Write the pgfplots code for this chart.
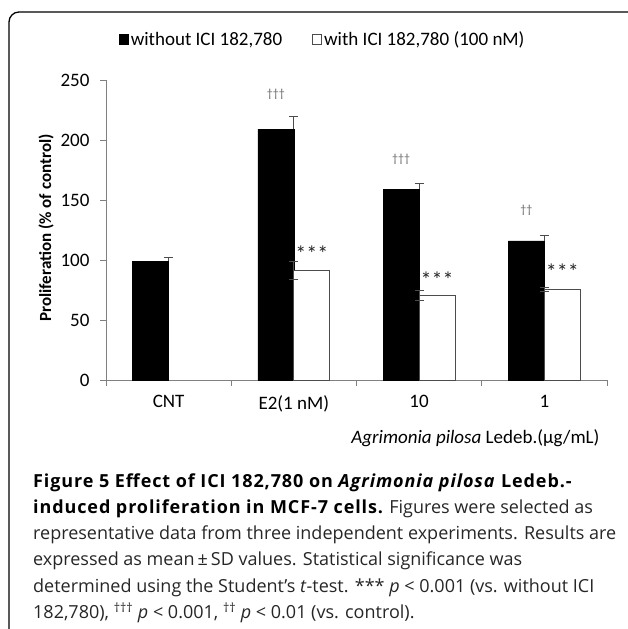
\documentclass[border=0pt]{standalone}
\usepackage{fontspec}
\setmainfont{Carlito}
\newfontfamily\capfont{Open Sans}
\newfontfamily\capbold[LetterSpace=5]{Open Sans Bold}
\usepackage{pgfplots}
\pgfplotsset{compat=1.18}

\begin{document}
\begin{tikzpicture}[x=1pt,y=1pt]
\useasboundingbox (0,0) rectangle (627,-629);
% frame round the figure
\draw[line width=1.3pt] (640,-12) -- (19,-12) arc[start angle=90,end angle=180,radius=10] -- (9,-640);

\begin{axis}[
    at={(106pt,-380pt)}, anchor=south west,
    scale only axis,
    width=501pt, height=300pt,
    xmin=-0.5, xmax=3.5,
    ymin=0, ymax=250,
    axis x line=bottom, axis y line=left,
    axis line style={-, gray, line width=0.8pt},
    tick align=outside,
    major tick length=6pt,
    tick style={gray, line width=0.8pt},
    ytick={0,50,...,250},
    yticklabel style={xshift=-7pt},
    xtick={-0.5,0.5,1.5,2.5,3.5},
    xticklabels={},
    extra x ticks={0,1,2,3},
    extra x tick labels={CNT,E2(1 nM),10,1},
    extra x tick style={major tick length=0pt, tick style={draw=none},
        tick label style={yshift=-12pt}},
    ticklabel style={font=\fontsize{19}{22}\selectfont},
    /pgf/number format/assume math mode=true,
    area legend,
    legend columns=2,
    legend style={draw=none, fill=none, at={(0.433,1.135)}, anchor=center,
        font=\fontsize{19}{22}\selectfont,
        /tikz/every even column/.append style={column sep=28pt}},
    legend image code/.code={\draw[#1] (1pt,-5pt) rectangle (10pt,5pt);},
]
% without ICI 182,780
\addplot[ybar, bar width=0.287, bar shift=-0.1435, fill=black, draw=black,
    error bars/.cd, y dir=plus, y explicit,
    error bar style={black!70, line width=0.8pt},
    error mark options={rotate=90, mark size=4.5pt, line width=0.8pt, black!70}]
    coordinates {(0,99) +- (0,3) (1,209) +- (0,10.5) (2,159) +- (0,4.5) (3,116) +- (0,4.5)};
\addlegendentry{without ICI 182,780}
% with ICI 182,780 (100 nM)
\addplot[ybar, bar width=0.287, bar shift=0.1435, fill=white, draw=black!70, line width=0.9pt,
    error bars/.cd, y dir=both, y explicit,
    error bar style={black!70, line width=0.8pt},
    error mark options={rotate=90, mark size=4.5pt, line width=0.8pt, black!70}]
    coordinates {(1,91) +- (0,7.5) (2,70.5) +- (0,4.5) (3,75.5) +- (0,1.5)};
\addlegendentry{with ICI 182,780 (100 nM)}

% significance marks
\begin{scope}[every node/.style={font=\fontsize{12}{12}\selectfont, text=black!60}]
\node at (axis cs:0.8565,238) {\textdagger\textdagger\textdagger};
\node at (axis cs:1.8565,184) {\textdagger\textdagger\textdagger};
\node at (axis cs:2.8565,141) {\textdagger\textdagger};
\end{scope}
\begin{scope}[every node/.style={font=\fontsize{22}{22}\selectfont, text=black!85}]
\node at (axis cs:1.1435,105) {***};
\node at (axis cs:2.1435,84) {***};
\node at (axis cs:3.1435,90) {***};
\end{scope}
\end{axis}

% axis titles
\node[rotate=90, font=\bfseries\fontsize{17}{20}\selectfont] at (46,-228) {Proliferation (\% of control)};
\node[anchor=east, font=\fontsize{19}{22}\selectfont] at (603,-438) {\textit{Agrimonia pilosa} Ledeb.(µg/mL)};

% caption, one node per line
\begin{scope}[every node/.style={anchor=base west, inner sep=0pt, text=black!85,
    font=\capfont\fontsize{18}{21}\selectfont}]
\node at (33,-487) {\capbold\color{black}Figure 5 Effect of ICI 182,780 on \textit{Agrimonia pilosa} Ledeb.-};
\node at (33,-513.3) {{\capbold\color{black}induced proliferation in MCF-7 cells.} Figures were selected as};
\node at (33,-539.6) {representative data from three independent experiments. Results are};
\node at (33,-565.9) {expressed as mean\,±\,SD values. Statistical significance was};
\node at (33,-592.2) {determined using the Student’s \textit{t}-test. *** \textit{p} < 0.001 (vs. without ICI};
\node at (33,-618.5) {182,780), \textsuperscript{†††} \textit{p} < 0.001, \textsuperscript{††} \textit{p} < 0.01 (vs. control).};
\end{scope}
\end{tikzpicture}
\end{document}
